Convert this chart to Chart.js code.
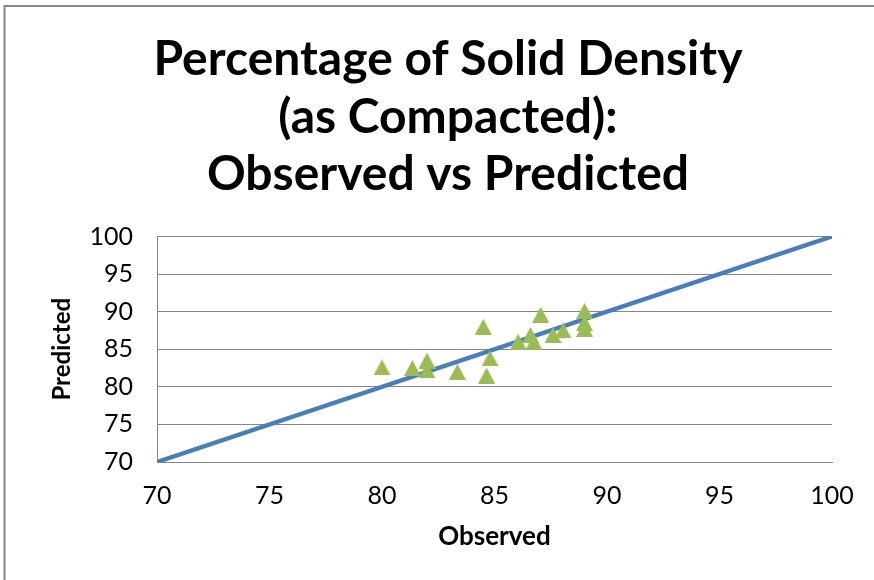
<!DOCTYPE html>
<html>
<head>
<meta charset="utf-8">
<script src="https://cdn.jsdelivr.net/npm/chart.js@4/dist/chart.umd.min.js"></script>
<style>
  html, body { margin: 0; padding: 0; background: #ffffff; }
  canvas { display: block; }
</style>
</head>
<body>
<canvas id="chart" width="874" height="580"></canvas>
<script>
// Solid density (% as compacted): observed vs predicted samples
const observed  = [80.0, 81.35, 82.0, 82.0, 83.35, 84.5, 84.8, 84.65, 86.05, 86.6, 86.75, 87.05, 87.6, 88.05, 89.0, 89.0, 89.0];
const predicted = [82.6, 82.5, 83.5, 82.2, 82.0, 88.0, 83.8, 81.5, 86.0, 86.9, 86.0, 89.6, 86.9, 87.5, 90.1, 88.5, 87.7];

// 1:1 reference line
const lineX = [70, 100];
const lineY = [70, 100];

// Axis ticks
const axisMin = 70;
const axisMax = 100;
const axisStep = 5;

const titleLines = ['Percentage of Solid Density', '(as Compacted):', 'Observed vs Predicted'];
const xTitle = 'Observed';
const yTitle = 'Predicted';

const GREEN = '#9BBB59';
const BLUE = '#4A7EBB';
const GRID = '#868686';
const FONT = 'Lato, "Open Sans", sans-serif';

// Triangle marker centred on its bounding box
function triangleMarker(w, h, color) {
  const c = document.createElement('canvas');
  c.width = w; c.height = h;
  const g = c.getContext('2d');
  g.fillStyle = color;
  g.beginPath();
  g.moveTo(w / 2, 0);
  g.lineTo(w, h);
  g.lineTo(0, h);
  g.closePath();
  g.fill();
  return c;
}
const marker = triangleMarker(17, 16, GREEN);

// White page with a grey frame on the top and left edges
const framePlugin = {
  id: 'frame',
  beforeDraw(chart) {
    const ctx = chart.ctx;
    ctx.save();
    ctx.fillStyle = '#ffffff';
    ctx.fillRect(0, 0, chart.width, chart.height);
    ctx.strokeStyle = '#868686';
    ctx.lineWidth = 2;
    ctx.beginPath();
    ctx.moveTo(4.5, chart.height);
    ctx.lineTo(4.5, 6);
    ctx.lineTo(chart.width, 6);
    ctx.stroke();
    ctx.restore();
  }
};

const points = observed.map((x, i) => ({ x: x, y: predicted[i] }));
const refLine = lineX.map((x, i) => ({ x: x, y: lineY[i] }));

new Chart(document.getElementById('chart'), {
  type: 'scatter',
  data: {
    datasets: [
      {
        label: 'Samples',
        data: points,
        pointStyle: marker,
        pointRadius: 8,
        pointHoverRadius: 8,
        backgroundColor: GREEN,
        borderColor: GREEN,
        order: 0
      },
      {
        label: 'Line of equality',
        data: refLine,
        showLine: true,
        borderColor: BLUE,
        borderWidth: 4.5,
        pointRadius: 0,
        fill: false,
        order: 1
      }
    ]
  },
  options: {
    responsive: false,
    animation: false,
    events: [],
    layout: { padding: { left: 22, right: 0, top: 0, bottom: 0 } },
    plugins: {
      legend: { display: false },
      tooltip: { enabled: false },
      title: {
        display: true,
        text: titleLines,
        color: '#000000',
        font: { family: FONT, size: 48, weight: 'bold', lineHeight: '57.5px' },
        padding: { top: 31, bottom: 33 }
      }
    },
    scales: {
      x: {
        type: 'linear',
        min: axisMin,
        max: axisMax,
        ticks: {
          stepSize: axisStep,
          color: '#000000',
          padding: 19,
          font: { family: FONT, size: 25 }
        },
        grid: { display: false, drawTicks: false },
        border: { display: true, color: GRID, width: 1 },
        title: {
          display: true,
          text: xTitle,
          color: '#000000',
          font: { family: FONT, size: 26, weight: 'bold', lineHeight: 1.2 },
          padding: { top: 0, bottom: 27.4 }
        },
        afterFit(scale) { scale.height = 118; }
      },
      y: {
        type: 'linear',
        min: axisMin,
        max: axisMax,
        ticks: {
          stepSize: axisStep,
          color: '#000000',
          padding: 24,
          font: { family: FONT, size: 25 }
        },
        grid: { display: true, color: GRID, lineWidth: 1, drawTicks: false },
        border: { display: true, color: GRID, width: 1 },
        title: {
          display: true,
          text: yTitle,
          color: '#000000',
          font: { family: FONT, size: 24, weight: 'bold', lineHeight: 1.2 },
          padding: { top: 25.6, bottom: 0 }
        },
        afterFit(scale) { scale.width = 135; }
      },
      yRight: {
        type: 'linear',
        position: 'right',
        display: true,
        ticks: { display: false },
        grid: { display: false, drawTicks: false },
        border: { display: false },
        afterFit(scale) { scale.width = 42; }
      }
    }
  },
  plugins: [framePlugin]
});
</script>
</body>
</html>
